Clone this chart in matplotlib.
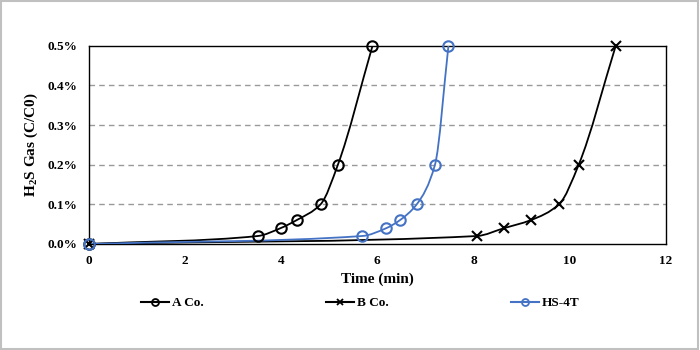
import numpy as np
import matplotlib.pyplot as plt
from matplotlib.path import Path
from matplotlib.patches import PathPatch, Rectangle
from matplotlib.lines import Line2D

plt.rcParams['font.family'] = ['Liberation Serif', 'DejaVu Serif']
plt.rcParams['font.weight'] = 'bold'
plt.rcParams['mathtext.fontset'] = 'custom'
plt.rcParams['mathtext.rm'] = 'Liberation Serif:bold'
plt.rcParams['mathtext.bf'] = 'Liberation Serif:bold'

# H2S breakthrough, concentration in %
a_time = [0, 3.51, 3.99, 4.32, 4.82, 5.18, 5.9]
a_conc = [0, 0.02, 0.04, 0.06, 0.10, 0.20, 0.50]

b_time = [0, 8.07, 8.64, 9.19, 9.78, 10.19, 10.96]
b_conc = [0, 0.02, 0.04, 0.06, 0.10, 0.20, 0.50]

hs_time = [0, 5.68, 6.19, 6.47, 6.82, 7.2, 7.48]
hs_conc = [0, 0.02, 0.04, 0.06, 0.10, 0.20, 0.50]

x_ticks = [0, 2, 4, 6, 8, 10, 12]
y_ticks = [0, 0.1, 0.2, 0.3, 0.4, 0.5]


def smooth_path(xs, ys):
    # monotone cubic (pchip) written as bezier segments, no overshoot
    x = np.asarray(xs, float)
    y = np.asarray(ys, float)
    h = np.diff(x)
    d = np.diff(y) / h
    n = len(x)
    m = np.zeros(n)
    for i in range(1, n - 1):
        if d[i - 1] * d[i] > 0:
            w1 = 2 * h[i] + h[i - 1]
            w2 = h[i] + 2 * h[i - 1]
            m[i] = (w1 + w2) / (w1 / d[i - 1] + w2 / d[i])
    m[0] = d[0]
    m[-1] = d[-1]
    verts = [(x[0], y[0])]
    codes = [Path.MOVETO]
    for i in range(n - 1):
        verts += [(x[i] + h[i] / 3, y[i] + m[i] * h[i] / 3),
                  (x[i + 1] - h[i] / 3, y[i + 1] - m[i + 1] * h[i] / 3),
                  (x[i + 1], y[i + 1])]
        codes += [Path.CURVE4] * 3
    return Path(verts, codes)


fig = plt.figure(figsize=(7, 3.5), dpi=100)
ax = fig.add_axes([0.127, 0.303, 0.824, 0.566])

series = [
    (a_time, a_conc, 'black', 'o', 'A Co.'),
    (b_time, b_conc, 'black', 'x', 'B Co.'),
    (hs_time, hs_conc, '#4472c4', 'o', 'HS-4T'),
]

handles = []
for xs, ys, col, mk, lab in series:
    ax.add_patch(PathPatch(smooth_path(xs, ys), fill=False, edgecolor=col, lw=1.3, zorder=3))
    ax.plot(xs, ys, ls='none', marker=mk, ms=7.5, mfc='none', mec=col, mew=1.5, zorder=4, clip_on=False)
    handles.append(Line2D([], [], color=col, lw=1.5, marker=mk, ms=5, mfc='none', mec=col, mew=1.3, label=lab))

ax.set_xlim(0, 12)
ax.set_ylim(0, 0.5)
ax.set_xticks(x_ticks)
ax.set_yticks(y_ticks)
ax.set_yticklabels([f'{v:.1f}%' for v in y_ticks])
ax.tick_params(length=0, labelsize=9.5)
ax.tick_params(axis='x', pad=8)
ax.tick_params(axis='y', pad=8)
for lbl in ax.get_xticklabels() + ax.get_yticklabels():
    lbl.set_fontweight('bold')
for y in y_ticks[1:-1]:
    ax.axhline(y, color='#999999', ls=(0, (4, 3)), lw=1, zorder=1)
for s in ax.spines.values():
    s.set_color('black')
    s.set_linewidth(1)

ax.set_xlabel('Time (min)', fontsize=11, fontweight='bold', labelpad=4)
ax.set_ylabel('H$_2$S Gas (C/C0)', fontsize=11, fontweight='bold', labelpad=6)

fig.legend(handles=handles, loc='center left', bbox_to_anchor=(0.185, 0.134), ncol=3,
           frameon=False, fontsize=9.5, handlelength=2.1, columnspacing=9.3, handletextpad=0.2)

fig.patches.append(Rectangle((0.002, 0.003), 0.995, 0.993, transform=fig.transFigure,
                             fill=False, edgecolor='#c0c0c0', lw=1.5))

fig.savefig('out.png', dpi=100)
